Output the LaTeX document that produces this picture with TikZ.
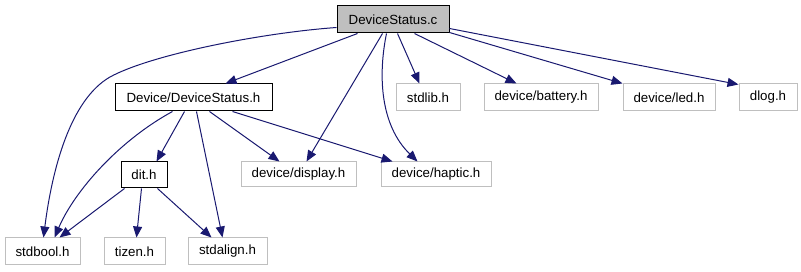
\documentclass[tikz,border=0pt]{standalone}
\usepackage{fontspec}
\setmainfont{Liberation Sans}
\usetikzlibrary{arrows.meta}
\definecolor{edgeblue}{HTML}{191970}
\definecolor{boxgray}{HTML}{BFBFBF}
\begin{document}
\begin{tikzpicture}[x=1pt,y=1pt,
  file/.style={draw=boxgray,line width=1pt,fill=white,inner sep=0pt,
    minimum height=27pt,font=\fontsize{13.3pt}{16pt}\selectfont},
  local/.style={file,draw=black},
  root/.style={local,fill=boxgray},
  dep/.style={draw=edgeblue,line width=1pt,
    -{Triangle[length=11pt,width=9pt]}}]
\useasboundingbox (0,0) rectangle (801,-272);

% include graph nodes
\node[root,minimum width=112pt]  (c)       at (393,-19.5)   {DeviceStatus.c};
\node[local,minimum width=157pt] (dsh)     at (193.5,-97.5) {Device/DeviceStatus.h};
\node[file,minimum width=64pt]   (stdlib)  at (428,-97.5)   {stdlib.h};
\node[file,minimum width=114pt]  (battery) at (541,-97.5)   {device/battery.h};
\node[file,minimum width=92pt]   (led)     at (669,-97.5)   {device/led.h};
\node[file,minimum width=58pt]   (dlog)    at (768,-97.5)   {dlog.h};
\node[local,minimum width=46pt,minimum height=26pt] (dit) at (144,-175) {dit.h};
\node[file,minimum width=115pt,minimum height=25pt] (display) at (298.5,-174.5) {device/display.h};
\node[file,minimum width=110pt,minimum height=25pt] (haptic)  at (436,-174.5)   {device/haptic.h};
\node[file,minimum width=75pt]   (stdbool)  at (42.5,-251.5)  {stdbool.h};
\node[file,minimum width=61pt]   (tizen)    at (134.5,-251.5) {tizen.h};
\node[file,minimum width=79pt]   (stdalign) at (227.5,-251.5) {stdalign.h};

% includes of DeviceStatus.c
\draw[dep] ([yshift=6pt]c.south west) .. controls (260,-33) and (150,-55) .. (110,-77)
  .. controls (70,-100) and (52,-170) .. ([xshift=39pt]stdbool.north west);
\draw[dep] ([xshift=21pt]c.south west) -- ([xshift=111pt]dsh.north west);
\draw[dep] ([xshift=46pt]c.south west) -- ([xshift=66pt]display.north west);
\draw[dep] ([xshift=50pt]c.south west) .. controls (378,-75) and (380,-125) .. ([xshift=37pt]haptic.north west);
\draw[dep] ([xshift=61pt]c.south west) -- ([xshift=24pt]stdlib.north west);
\draw[dep] ([xshift=78pt]c.south west) -- ([xshift=33pt]battery.north west);
\draw[dep] ([yshift=1pt]c.south east) -- (led.north west);
\draw[dep] ([yshift=5pt]c.south east) -- ([yshift=-1pt]dlog.north west);

% includes of Device/DeviceStatus.h
\draw[dep] ([xshift=58pt]dsh.south west) .. controls (120,-140) and (75,-190) .. ([xshift=50pt]stdbool.north west);
\draw[dep] ([xshift=70pt]dsh.south west) -- ([xshift=36pt]dit.north west);
\draw[dep] ([xshift=82pt]dsh.south west) -- ([xshift=35pt]stdalign.north west);
\draw[dep] ([xshift=95pt]dsh.south west) -- ([xshift=39pt]display.north west);
\draw[dep] ([xshift=118pt]dsh.south west) -- ([xshift=12pt]haptic.north west);

% includes of dit.h
\draw[dep] ([xshift=4pt]dit.south west) -- ([xshift=55pt]stdbool.north west);
\draw[dep] ([xshift=21pt]dit.south west) -- ([xshift=33pt]tizen.north west);
\draw[dep] ([xshift=37pt]dit.south west) -- ([xshift=24pt]stdalign.north west);
\end{tikzpicture}
\end{document}
